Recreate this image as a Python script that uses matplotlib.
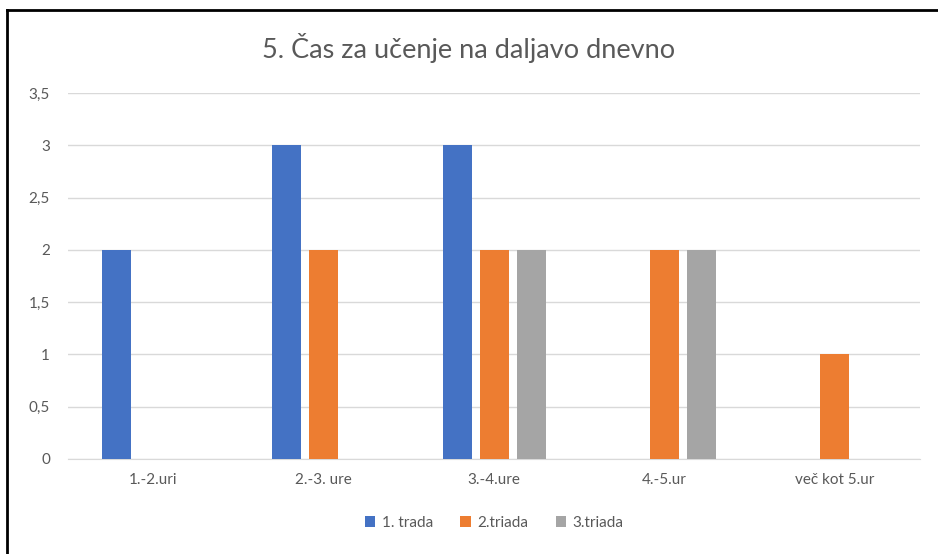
import numpy as np
import matplotlib
matplotlib.use("Agg")
import matplotlib.pyplot as plt
from matplotlib.lines import Line2D

# ---------------------------------------------------------------------------
# Data
# ---------------------------------------------------------------------------
categories = ["1.-2.uri", "2.-3. ure", "3.-4.ure", "4.-5.ur", "več kot 5.ur"]
series_names = ["1. trada", "2.triada", "3.triada"]
triada_1 = [2, 3, 3, 0, 0]
triada_2 = [0, 2, 2, 2, 1]
triada_3 = [0, 0, 2, 2, 0]
y_ticks = [0, 0.5, 1, 1.5, 2, 2.5, 3, 3.5]
y_tick_labels = ["0", "0,5", "1", "1,5", "2", "2,5", "3", "3,5"]

colors = ["#4472C4", "#ED7D31", "#A5A5A5"]
text_grey = "#595959"

plt.rcParams["font.family"] = ["Lato", "DejaVu Sans"]

fig = plt.figure(figsize=(9.38, 5.54), dpi=100)
ax = fig.add_axes([0.0725, 0.1715, 0.9085, 0.6605])

x = np.arange(len(categories))
bar_w = 0.17
pitch = 0.217
for i, (vals, name) in enumerate(zip([triada_1, triada_2, triada_3], series_names)):
    ax.bar(x + (i - 1) * pitch, vals, width=bar_w, color=colors[i], label=name, zorder=3)

ax.set_xlim(-0.5, len(categories) - 0.5)
ax.set_ylim(0, 3.5)
ax.set_yticks(y_ticks)
ax.set_yticklabels(y_tick_labels)
ax.set_xticks(x)
ax.set_xticklabels(categories)
ax.grid(axis="y", color="#D9D9D9", linewidth=1, zorder=0)
for s in ["top", "right", "left"]:
    ax.spines[s].set_visible(False)
ax.spines["bottom"].set_color("#D9D9D9")
ax.tick_params(axis="both", length=0, colors=text_grey, labelsize=11)
ax.tick_params(axis="y", pad=13)
ax.tick_params(axis="x", pad=10)

fig.text(0.5, 0.913, "5. Čas za učenje na daljavo dnevno", ha="center", va="center",
         fontsize=19.5, color=text_grey)

ax.legend(loc="center", bbox_to_anchor=(0.5, 1 - (523 - 93) / 366), ncol=3, frameon=False,
          fontsize=11, labelcolor=text_grey, handlelength=0.7, handleheight=0.7,
          handletextpad=0.4, columnspacing=1.8)

# chart border (top and left edge visible in the reference)
fig.add_artist(Line2D([7 / 938, 1.0], [1 - 10 / 554, 1 - 10 / 554], color="black", linewidth=2))
fig.add_artist(Line2D([7 / 938, 7 / 938], [0.0, 1 - 10 / 554], color="black", linewidth=2))

fig.savefig("out.png", dpi=100)
